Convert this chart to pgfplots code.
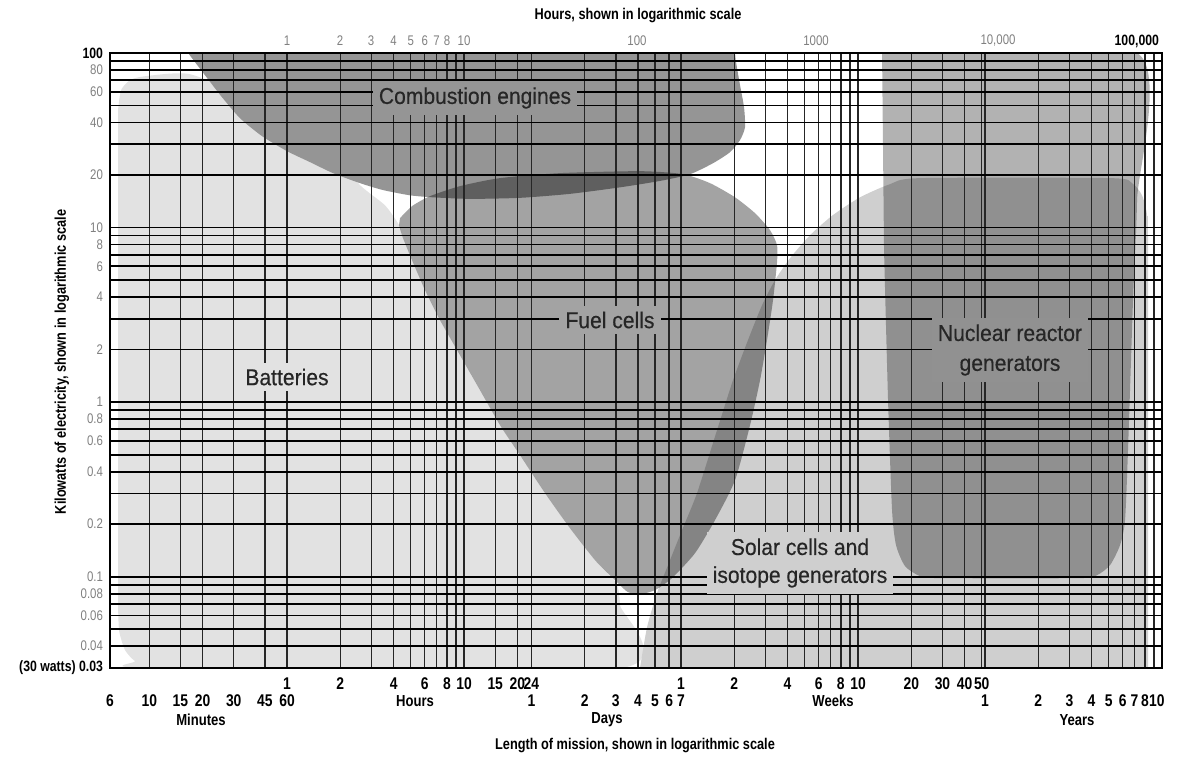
\documentclass[border=0pt]{standalone}
\usepackage{fontspec}
\setmainfont{Liberation Sans}
\newfontfamily\cond[FakeStretch=0.82]{Liberation Sans}
\newfontfamily\lab[FakeStretch=0.92,FakeBold=0.4]{Liberation Sans}
\usepackage{pgfplots}
\pgfplotsset{compat=1.18}

\definecolor{batt}{HTML}{E2E2E2}
\definecolor{solar}{HTML}{CFCFCF}
\definecolor{comb}{HTML}{959595}
\definecolor{fuelc}{HTML}{A3A3A3}
\definecolor{nucc}{HTML}{919191}

\tikzset{
  ttl/.style={font=\cond\bfseries\fontsize{7.8}{9}\selectfont},
  word/.style={font=\cond\bfseries\fontsize{8}{9}\selectfont},
  num/.style={font=\cond\bfseries\fontsize{8.5}{9}\selectfont},
  toplab/.style={font=\cond\fontsize{7}{8}\selectfont, text=black!50},
  region/.style={font=\lab\fontsize{11.5}{15}\selectfont, text=black!85, inner sep=3bp, align=center},
}

\begin{document}
\begin{tikzpicture}
\path[use as bounding box] (-55bp,-46.5bp) rectangle (536.5bp,334bp);
\begin{axis}[
  name=ax, at={(0,0)}, anchor=south west,
  scale only axis, width=526bp, height=307.5bp,
  xmode=log, ymode=log,
  xmin=0.1, xmax=87600, ymin=0.03, ymax=100,
  axis on top,
  axis line style={black, line width=0.9bp},
  major tick length=0pt, minor tick length=0pt,
  xmajorgrids, ymajorgrids,
  major x grid style={black!85, line width=0.7bp},
  major y grid style={black, line width=0.9bp},
  % vertical lines: minutes, hours, days, weeks, years (in hours)
  xtick={0.1,0.166667,0.25,0.333333,0.5,0.75,1,2,3,4,5,6,7,8,9,10,15,20,24,
         48,72,96,120,144,168,336,504,672,840,1008,1176,1344,1512,1680,3360,5040,6720,8400,
         8760,17520,26280,35040,43800,52560,61320,70080,78840,87600},
  xticklabels={,,,,,,1,2,,4,,6,,8,,10,15,20,24,,,,,,1,2,,4,,6,,8,,10,20,30,40,50,,,,,,,,,,},
  xticklabel style={font=\cond\bfseries\fontsize{8.5}{9}\selectfont, anchor=center, yshift=-8bp},
  ytick={0.03,0.04,0.05,0.06,0.07,0.08,0.09,0.1,0.2,0.3,0.4,0.5,0.6,0.7,0.8,0.9,
         1,2,3,4,5,6,7,8,9,10,20,30,40,50,60,70,80,90,100},
  yticklabels={{\bfseries\fontsize{7.5}{8}\selectfont\color{black}(30 watts) 0.03},0.04,,0.06,,0.08,,0.1,0.2,,0.4,,0.6,,0.8,,
               1,2,,4,,6,,8,,10,20,,40,,60,,80,,{\bfseries\fontsize{7.5}{8}\selectfont\color{black}100}},
  yticklabel style={font=\cond\fontsize{7}{8}\selectfont, text=black!50},
]
% Batteries
\addplot[draw=none, fill=batt, smooth, tension=0.4] coordinates {
  (0.111,47.0) (0.1154,61.2) (0.1297,69.9) (0.1577,73.6) (0.2832,75.6) (0.618,53.7)
  (1.75,27.75) (2.585,17.5) (3.578,13.4) (4.293,10.32) (4.522,8.70) (5.083,6.507)
  (6.019,4.381) (7.317,2.949) (9.489,1.858) (12.31,1.171) (15.97,0.7384) (20.71,0.4971)
  (28.67,0.3012) (39.68,0.1898) (54.94,0.1245) (68.53,0.09947) (74.11,0.0860)
  (76.04,0.06878) (77.03,0.03) (0.1683,0.03) (0.1384,0.03286) (0.1216,0.038)
  (0.1125,0.0494) (0.111,0.0735)
};
% Solar cells and isotope generators
\addplot[draw=none, fill=solar, smooth, tension=0.4] coordinates {
  (98.6,0.03) (108.1,0.05144) (123.0,0.08054) (142.0,0.1165) (170.3,0.1849) (207.0,0.3012)
  (268.5,0.6913) (330.7,1.337) (401.9,2.27) (482.3,3.594) (570.9,5.0) (694,6.679)
  (900.3,9.046) (1214,11.8) (1725,14.9) (2549,17.73) (3765,19.2) (44570,19.2)
  (59330,17.96) (67540,15.3) (72110,11.8) (73050,7.42) (73050,0.03)
};
% Combustion engines
\addplot[draw=none, fill=comb, smooth, tension=0.4] coordinates {
  (0.276,100) (0.344,74.6) (0.4293,55.8) (0.5427,42.3) (0.7225,33.4) (1.0,27.4)
  (1.349,23.7) (1.819,20.5) (2.585,17.96) (3.486,16.4) (4.953,15.3) (6.679,14.9)
  (10.81,14.6) (20.71,14.8) (39.68,15.6) (76.04,17.0) (127.9,18.5) (189,20.22)
  (254.9,23.37) (318,27.03) (362.2,31.7) (386.5,37.6) (381.5,48.9) (362.2,65.4)
  (343.8,88.6) (339.4,100)
};
% Nuclear reactor generators
\addplot[draw=none, fill=black, fill opacity=0.3, smooth, tension=0.4] coordinates {
  (2297,100) (63320,100) (63320,14.35) (60090,3.84) (56300,0.531) (54160,0.211)
  (50760,0.1517) (44570,0.1165) (37630,0.1021) (30160,0.0982) (4884,0.0982)
  (3765,0.1008) (3097,0.115) (2755,0.1517) (2616,0.2406) (2483,1.027) (2357,7.42)
};
% Fuel cells
\addplot[draw=none, fill=black, fill opacity=0.36, smooth, tension=0.4] coordinates {
  (4.348,11.32) (5.083,13.27) (6.425,15.13) (9.489,17.27) (15.97,19.2) (34.84,20.5)
  (98.6,21.04) (172.6,20.22) (245.2,17.96) (339.4,14.9) (440.3,12.09) (535,9.66)
  (586,7.93) (586,6.34) (556.3,3.84) (514.5,2.27) (469.9,1.337) (412.6,0.7384)
  (339.4,0.3575) (261.6,0.211) (201.7,0.1365) (149.5,0.0982) (119.9,0.0838)
  (98.6,0.0795) (84.38,0.0816) (76.04,0.0895) (68.53,0.09947) (54.94,0.1245)
  (39.68,0.1898) (28.67,0.3012) (20.71,0.4971) (15.97,0.7384) (12.31,1.171)
  (9.489,1.858) (7.317,2.949) (6.019,4.381) (5.083,6.507) (4.522,8.70) (4.293,10.32)
};
\end{axis}

\begin{scope}[shift={(ax.south west)}]
% titles
\node[ttl, rotate=90] at (-24bp,153bp) {Kilowatts of electricity, shown in logarithmic scale};
\node[ttl] at (264bp,326bp) {Hours, shown in logarithmic scale};
\node[ttl] at (262.5bp,-39bp) {Length of mission, shown in logarithmic scale};
% top hour labels
\node[toplab] at (88.5bp,313.5bp) {1};
\node[toplab] at (115bp,313.5bp) {2};
\node[toplab] at (130.5bp,313.5bp) {3};
\node[toplab] at (141.8bp,313.5bp) {4};
\node[toplab] at (150.4bp,313.5bp) {5};
\node[toplab] at (157.4bp,313.5bp) {6};
\node[toplab] at (163.3bp,313.5bp) {7};
\node[toplab] at (168.5bp,313.5bp) {8};
\node[toplab] at (177bp,313.5bp) {10};
\node[toplab] at (263.5bp,313.5bp) {100};
\node[toplab] at (353bp,313.5bp) {1000};
\node[toplab] at (444bp,313.5bp) {10,000};
\node[anchor=east, font=\cond\bfseries\fontsize{7.5}{8}\selectfont] at (528bp,313.5bp) {100,000};
% second row of the bottom scale: minutes, days, years
\node[num] at (0bp,-16.5bp) {6};
\node[num] at (19.64bp,-16.5bp) {10};
\node[num] at (35.22bp,-16.5bp) {15};
\node[num] at (46.28bp,-16.5bp) {20};
\node[num] at (61.87bp,-16.5bp) {30};
\node[num] at (77.46bp,-16.5bp) {45};
\node[num] at (88.52bp,-16.5bp) {60};
\node[num] at (210.68bp,-16.5bp) {1};
\node[num] at (237.33bp,-16.5bp) {2};
\node[num] at (252.91bp,-16.5bp) {3};
\node[num] at (263.97bp,-16.5bp) {4};
\node[num] at (272.55bp,-16.5bp) {5};
\node[num] at (279.56bp,-16.5bp) {6};
\node[num] at (285.49bp,-16.5bp) {7};
\node[num] at (437.49bp,-16.5bp) {1};
\node[num] at (464.13bp,-16.5bp) {2};
\node[num] at (479.72bp,-16.5bp) {3};
\node[num] at (490.78bp,-16.5bp) {4};
\node[num] at (499.36bp,-16.5bp) {5};
\node[num] at (506.37bp,-16.5bp) {6};
\node[num] at (512.29bp,-16.5bp) {7};
\node[num] at (517.43bp,-16.5bp) {8};
\node[num, anchor=east, inner sep=0pt] at (527.5bp,-16.5bp) {10};
% unit words
\node[word] at (152.5bp,-16.5bp) {Hours};
\node[word] at (361.5bp,-16.5bp) {Weeks};
\node[word] at (45.5bp,-26bp) {Minutes};
\node[word] at (248.5bp,-26bp) {Days};
\node[word] at (483.5bp,-26bp) {Years};
% region labels
\node[region, fill=comb] at (182.5bp,285bp) {Combustion engines};
\node[region, fill=fuelc] at (250bp,174bp) {Fuel cells};
\node[region, fill=batt] at (88.5bp,145.5bp) {Batteries};
\node[region, fill=nucc] at (450bp,159bp) {Nuclear reactor\\generators};
\node[region, fill=solar, font=\lab\fontsize{11.5}{14}\selectfont] at (345bp,52.5bp) {Solar cells and\\isotope generators};
\end{scope}
\end{tikzpicture}
\end{document}
